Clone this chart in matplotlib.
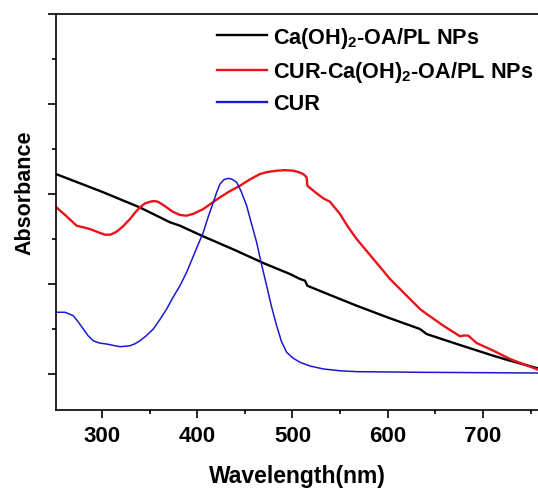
import matplotlib
matplotlib.use("Agg")
import matplotlib.pyplot as plt
from matplotlib.ticker import MultipleLocator

plt.rcParams['font.family'] = ['Liberation Sans', 'DejaVu Sans']
plt.rcParams['font.weight'] = 'bold'
plt.rcParams['mathtext.fontset'] = 'custom'
plt.rcParams['mathtext.rm'] = 'Liberation Sans:bold'
plt.rcParams['mathtext.bf'] = 'Liberation Sans:bold'
plt.rcParams['mathtext.default'] = 'bf'

# Black: Ca(OH)2-OA/PL NPs
wl_black = [251.7, 300.0, 340.0, 371.4, 381.9, 404.7, 440.0, 469.4, 497.4, 507.9, 513.2,
            515.6, 532.4, 567.4, 602.4, 633.9, 640.9, 675.9, 710.9, 728.4, 757.8]
abs_black = [2.222, 2.025, 1.850, 1.686, 1.648, 1.537, 1.375, 1.233, 1.111, 1.056, 1.037,
             0.981, 0.908, 0.759, 0.619, 0.500, 0.444, 0.322, 0.203, 0.148, 0.063]

# Red: CUR-Ca(OH)2-OA/PL NPs
wl_red = [251.7, 262.0, 273.4, 287.4, 296.0, 303.2, 309.0, 315.4, 322.0, 329.4, 334.5,
          339.9, 345.0, 350.4, 354.5, 358.8, 363.0, 367.9, 374.0, 381.9, 388.9, 396.0,
          406.4, 414.0, 423.9, 434.0, 444.9, 455.0, 465.9, 474.0, 483.4, 492.0, 500.9,
          506.0, 511.4, 514.9, 515.6, 521.9, 527.0, 532.4, 539.4, 549.9, 558.0, 567.4,
          584.9, 602.4, 619.9, 633.9, 640.9, 658.4, 675.9, 680.0, 684.6, 693.4, 710.9,
          728.4, 757.8]
abs_red = [1.856, 1.760, 1.648, 1.611, 1.575, 1.548, 1.548, 1.581, 1.640, 1.722, 1.790,
           1.852, 1.895, 1.914, 1.922, 1.914, 1.887, 1.852, 1.805, 1.767, 1.759, 1.780,
           1.833, 1.890, 1.963, 2.030, 2.092, 2.160, 2.222, 2.245, 2.259, 2.265, 2.259,
           2.245, 2.222, 2.186, 2.092, 2.037, 1.995, 1.952, 1.914, 1.778, 1.640, 1.500,
           1.278, 1.056, 0.870, 0.722, 0.667, 0.537, 0.419, 0.428, 0.426, 0.344, 0.259,
           0.167, 0.048]

# Blue: CUR
wl_blue = [251.7, 261.2, 269.9, 275.0, 280.4, 285.5, 290.9, 297.0, 304.9, 318.9, 329.4,
           334.5, 339.9, 346.5, 353.9, 360.5, 367.9, 374.5, 381.9, 388.9, 397.5, 406.4,
           411.5, 416.9, 420.5, 423.9, 428.1, 432.6, 436.5, 441.4, 446.0, 451.9, 457.0,
           462.4, 467.5, 472.9, 478.0, 483.4, 488.5, 493.9, 500.5, 507.9, 518.4, 532.4,
           550.0, 567.4, 633.9, 757.8]
abs_blue = [0.686, 0.686, 0.648, 0.580, 0.500, 0.425, 0.370, 0.345, 0.333, 0.303, 0.314,
            0.335, 0.370, 0.425, 0.500, 0.600, 0.722, 0.850, 0.981, 1.130, 1.350, 1.574,
            1.745, 1.908, 2.020, 2.111, 2.160, 2.174, 2.165, 2.130, 2.033, 1.870, 1.670,
            1.463, 1.220, 0.981, 0.750, 0.537, 0.360, 0.241, 0.178, 0.130, 0.089, 0.056,
            0.036, 0.026, 0.019, 0.011]

labels = ["Ca(OH)$_2$-OA/PL NPs", "CUR-Ca(OH)$_2$-OA/PL NPs", "CUR"]
colors = ["#000000", "#e8141a", "#1a1acc"]

fig = plt.figure(figsize=(5.38, 4.89), dpi=100)
ax = fig.add_axes([0.104, 0.1595, 0.896, 0.8098])

ax.plot(wl_black, abs_black, color=colors[0], lw=1.7, label=labels[0])
ax.plot(wl_red, abs_red, color=colors[1], lw=1.7, label=labels[1])
ax.plot(wl_blue, abs_blue, color=colors[2], lw=1.1, label=labels[2])

ax.set_xlim(251.7, 757.8)
ax.set_ylim(-0.4, 4.0)
ax.xaxis.set_major_locator(MultipleLocator(100))
ax.xaxis.set_minor_locator(MultipleLocator(50))
ax.yaxis.set_major_locator(MultipleLocator(1))
ax.yaxis.set_minor_locator(MultipleLocator(0.5))
ax.set_yticklabels([])
ax.tick_params(axis='both', which='major', direction='out', length=6, width=1.2)
ax.tick_params(axis='both', which='minor', direction='out', length=3, width=1.2)
ax.tick_params(axis='x', labelsize=16, pad=5)
for t in ax.get_xticklabels():
    t.set_fontweight('bold')
ax.spines['right'].set_visible(False)
for s in ['left', 'bottom', 'top']:
    ax.spines[s].set_linewidth(1.2)

ax.set_xlabel("Wavelength(nm)", fontsize=16.5, fontweight='bold', labelpad=13)
ax.set_ylabel("Absorbance", fontsize=15.5, fontweight='bold')
ax.yaxis.set_label_coords(-0.043, 0.55)

leg = ax.legend(loc='upper left', bbox_to_anchor=(217/538, 1 - 26/489),
                bbox_transform=fig.transFigure, frameon=False,
                prop={'size': 15.6, 'weight': 'bold'}, handlelength=2.3,
                handletextpad=0.28, labelspacing=0.42, borderaxespad=0,
                borderpad=0)
for line in leg.get_lines():
    line.set_linewidth(1.7)

fig.savefig("out.png", dpi=100)
